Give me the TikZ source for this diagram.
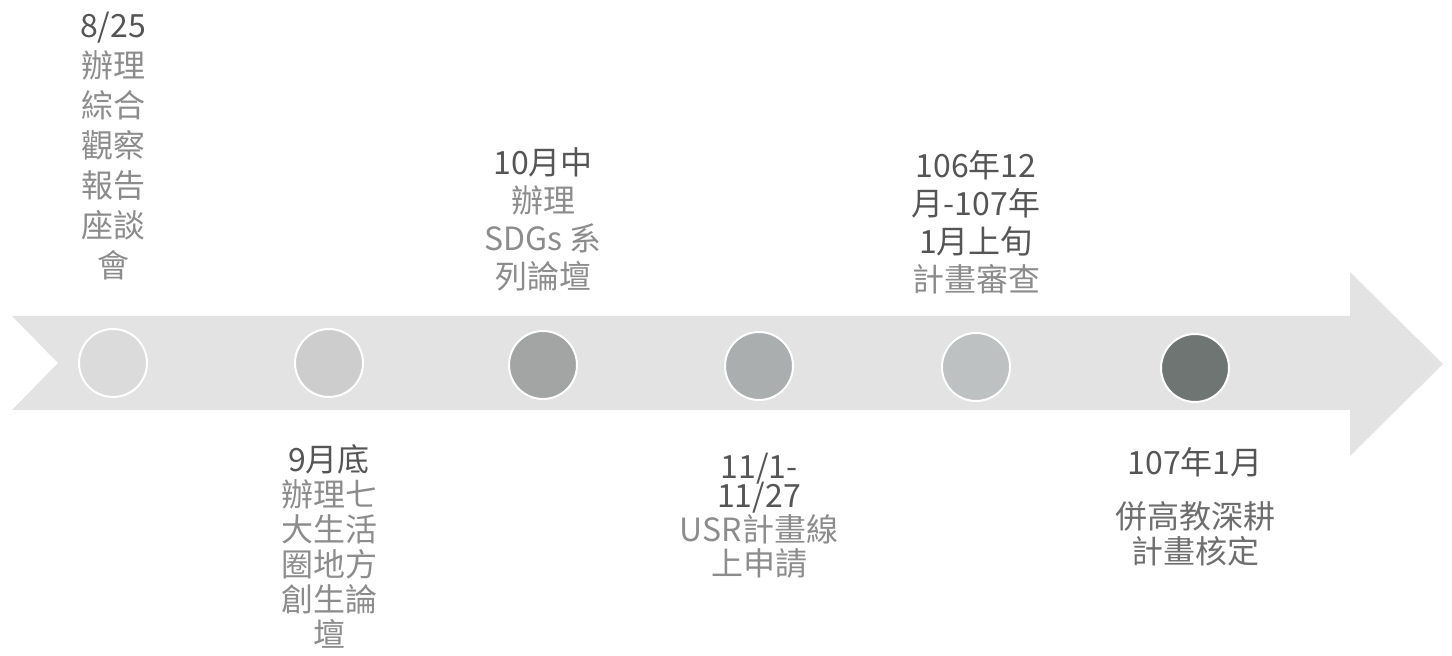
\documentclass[tikz,border=0pt]{standalone}
\usepackage{fontspec}
\setmainfont{Noto Sans CJK TC}
\usetikzlibrary{positioning}

\definecolor{bandgray}{HTML}{E3E3E3}
\definecolor{dategray}{HTML}{555555}
\definecolor{notegray}{HTML}{8C8C8C}
\definecolor{dotA}{HTML}{DBDBDB}
\definecolor{dotB}{HTML}{CDCDCD}
\definecolor{dotC}{HTML}{A3A5A5}
\definecolor{dotD}{HTML}{ABAEAE}
\definecolor{dotE}{HTML}{BDC1C1}
\definecolor{dotF}{HTML}{6F7572}

\begin{document}
\begin{tikzpicture}[x=0.5pt,y=-0.5pt,
        dot/.style={circle,draw=white,line width=1pt,minimum size=34pt,inner sep=0pt},
        lbl/.style={align=center,text=notegray,inner sep=0pt,
                    font=\fontsize{16}{19}\selectfont}]

        \useasboundingbox (0,0) rectangle (1452,656);

        % timeline band with notched tail
        \fill[bandgray] (12,316) -- (1350,316) -- (1350,272) -- (1443,364)
                        -- (1350,456) -- (1350,410) -- (12,410) -- (58,363) -- cycle;

        \node[dot,fill=dotA] (c1) at (113,363) {};
        \node[dot,fill=dotB] (c2) at (329,363) {};
        \node[dot,fill=dotC] (c3) at (543,365) {};
        \node[dot,fill=dotD] (c4) at (759,366) {};
        \node[dot,fill=dotE] (c5) at (976,367) {};
        \node[dot,fill=dotF] (c6) at (1195,368) {};

        \node[lbl,above=24pt of c1,font=\fontsize{16}{20}\selectfont] (l1)
            {{\color{dategray}8/25}\\辦理\\綜合\\觀察\\報告\\座談\\會};
        \node[lbl,above=19pt of c3] (l3)
            {{\color{dategray}10月中}\\辦理\\SDGs 系\\列論壇};
        \node[lbl,above=19pt of c5] (l5)
            {{\color{dategray}106年12}\\{\color{dategray}月-107年}\\{\color{dategray}1月上旬}\\計畫審查};

        \node[lbl,below=23pt of c2,font=\fontsize{16}{17.5}\selectfont] (l2)
            {{\color{dategray}9月底}\\辦理七\\大生活\\圈地方\\創生論\\壇};
        \node[lbl,below=26pt of c4,font=\fontsize{16}{17}\selectfont] (l4)
            {{\color{dategray}11/1-}\\[-2.5pt]{\color{dategray}11/27}\\USR計畫線\\上申請};
        \node[lbl,below=22pt of c6,text=dategray!85!white] (l6)
            {{\color{dategray}107年1月}\\[8pt]併高教深耕\\[-1.5pt]計畫核定};
\end{tikzpicture}
\end{document}
